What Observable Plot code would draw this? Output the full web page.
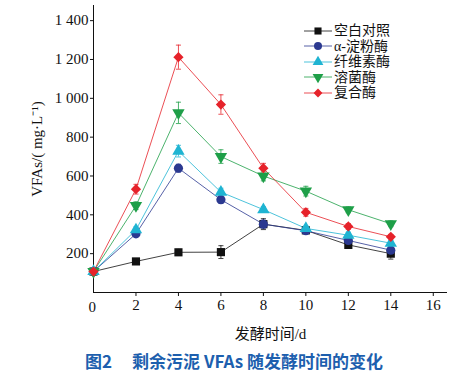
<!DOCTYPE html>
<html><head><meta charset="utf-8">
<script src="https://cdn.jsdelivr.net/npm/d3@7"></script>
<script src="https://cdn.jsdelivr.net/npm/@observablehq/plot@0.6"></script>
<style>
body{margin:0;background:#fff;width:470px;height:379px;overflow:hidden;position:relative;font-family:"Liberation Serif","Noto Sans CJK SC",serif}
#chart{position:absolute;left:0;top:0}
#legend{position:absolute;left:304px;top:23px}
.row{display:flex;align-items:center;height:15.5px;font-size:14px;line-height:15.5px;font-family:"Liberation Serif","Noto Sans CJK SC",serif;color:#111;white-space:nowrap}
.row svg{margin-right:2px}
#caption{position:absolute;left:85px;top:351px;font:bold 17px/20px "Noto Sans CJK SC",sans-serif;color:#1d5fae;white-space:nowrap}
#caption .gap{display:inline-block;width:20px}
</style></head>
<body>
<div id="chart"></div>
<div id="legend"></div>
<div id="caption">图2<span class="gap"></span>剩余污泥 VFAs 随发酵时间的变化</div>
<script>
const days = [0, 2, 4, 6, 8, 10, 12, 14];
const seriesNames = ["空白对照", "α-淀粉酶", "纤维素酶", "溶菌酶", "复合酶"];
const seriesColors = ["#111111", "#2b3990", "#1fb4d2", "#1e9f48", "#e6222a"];
const blank     = [108, 160, 207, 208, 352, 320, 245, 200];
const amylase   = [108, 302, 640, 478, 352, 318, 268, 218];
const cellulase = [108, 323, 728, 517, 427, 330, 295, 254];
const lysozyme  = [108, 447, 925, 700, 600, 522, 426, 354];
const compound  = [108, 532, 1212, 968, 640, 413, 340, 287];
const blankErr     = [8, 12, 15, 33, 28, 12, 15, 28];
const amylaseErr   = [8, 12, 20, 18, 20, 12, 15, 15];
const cellulaseErr = [8, 15, 30, 20, 15, 12, 15, 12];
const lysozymeErr  = [8, 20, 55, 35, 25, 25, 15, 15];
const compoundErr  = [8, 25, 62, 50, 25, 20, 15, 12];
const yTicks = [200, 400, 600, 800, 1000, 1200, 1400];
const xTicks = [2, 4, 6, 8, 10, 12, 14, 16];

const sqrt3 = Math.sqrt(3);
const triangleDown = {
  draw(context, size) {
    const y = -Math.sqrt(size / (sqrt3 * 3));
    context.moveTo(0, -y * 2);
    context.lineTo(-sqrt3 * y, y);
    context.lineTo(sqrt3 * y, y);
    context.closePath();
  }
};
const seriesSymbols = [d3.symbolSquare, d3.symbolCircle, d3.symbolTriangle, triangleDown, d3.symbolDiamond2];

const values = [blank, amylase, cellulase, lysozyme, compound];
const errs = [blankErr, amylaseErr, cellulaseErr, lysozymeErr, compoundErr];
const rows = [];
seriesNames.forEach((s, i) => days.forEach((d, j) => rows.push({series: s, day: d, value: values[i][j], err: errs[i][j]})));

const fmt = d => d >= 1000 ? String(d).replace(/(\d)(\d{3})$/, "$1 $2") : String(d);
const cap = 0.12;

const chart = Plot.plot({
  width: 470,
  height: 345,
  marginLeft: 93,
  marginRight: 23,
  marginTop: 5,
  marginBottom: 53,
  style: {fontFamily: '"Liberation Serif","Noto Sans CJK SC",serif', fontSize: "15px", color: "#111", background: "transparent"},
  x: {domain: [0, 16.67]},
  y: {domain: [0, 1478]},
  color: {domain: seriesNames, range: seriesColors},
  symbol: {domain: seriesNames, range: seriesSymbols},
  marks: [
    Plot.axisY({ticks: yTicks, tickFormat: fmt, tickSize: 3, tickPadding: 2, fontSize: 15, label: "VFAs/( mg·L⁻¹)", labelAnchor: "center", labelOffset: 62, labelArrow: "none"}),
    Plot.axisX({ticks: xTicks, tickSize: 4, tickPadding: 3, fontSize: 15, label: "发酵时间/d", labelAnchor: "center", labelOffset: 46, labelArrow: "none"}),
    Plot.text(["0"], {frameAnchor: "bottom-left", dx: -5, dy: 9, fontSize: 15, lineAnchor: "top"}),
    Plot.ruleX([0], {stroke: "#111", strokeWidth: 1}),
    Plot.ruleY([0], {stroke: "#111", strokeWidth: 1}),
    Plot.line(rows, {x: "day", y: "value", z: "series", stroke: "series", strokeWidth: 0.8}),
    Plot.ruleX(rows, {x: "day", y1: d => d.value - d.err, y2: d => d.value + d.err, stroke: "series", strokeWidth: 0.8}),
    Plot.link(rows, {x1: d => d.day - cap, x2: d => d.day + cap, y1: d => d.value + d.err, y2: d => d.value + d.err, stroke: "series", strokeWidth: 0.8}),
    Plot.link(rows, {x1: d => d.day - cap, x2: d => d.day + cap, y1: d => d.value - d.err, y2: d => d.value - d.err, stroke: "series", strokeWidth: 0.8}),
    Plot.dot(rows, {x: "day", y: "value", symbol: "series", fill: "series", stroke: "none", r: 4.6})
  ]
});
document.getElementById("chart").appendChild(chart);

const legend = document.getElementById("legend");
seriesNames.forEach((s, i) => {
  const row = document.createElement("div");
  row.className = "row";
  const svg = d3.create("svg").attr("width", 28).attr("height", 14);
  svg.append("line").attr("x1", 0).attr("x2", 28).attr("y1", 7).attr("y2", 7).attr("stroke", seriesColors[i]).attr("stroke-width", 0.8);
  svg.append("path").attr("transform", "translate(14,7)").attr("d", d3.symbol(seriesSymbols[i], Math.PI * 4 * 4)()).attr("fill", seriesColors[i]);
  row.appendChild(svg.node());
  const t = document.createElement("span");
  t.textContent = s;
  row.appendChild(t);
  legend.appendChild(row);
});
</script>
</body></html>
